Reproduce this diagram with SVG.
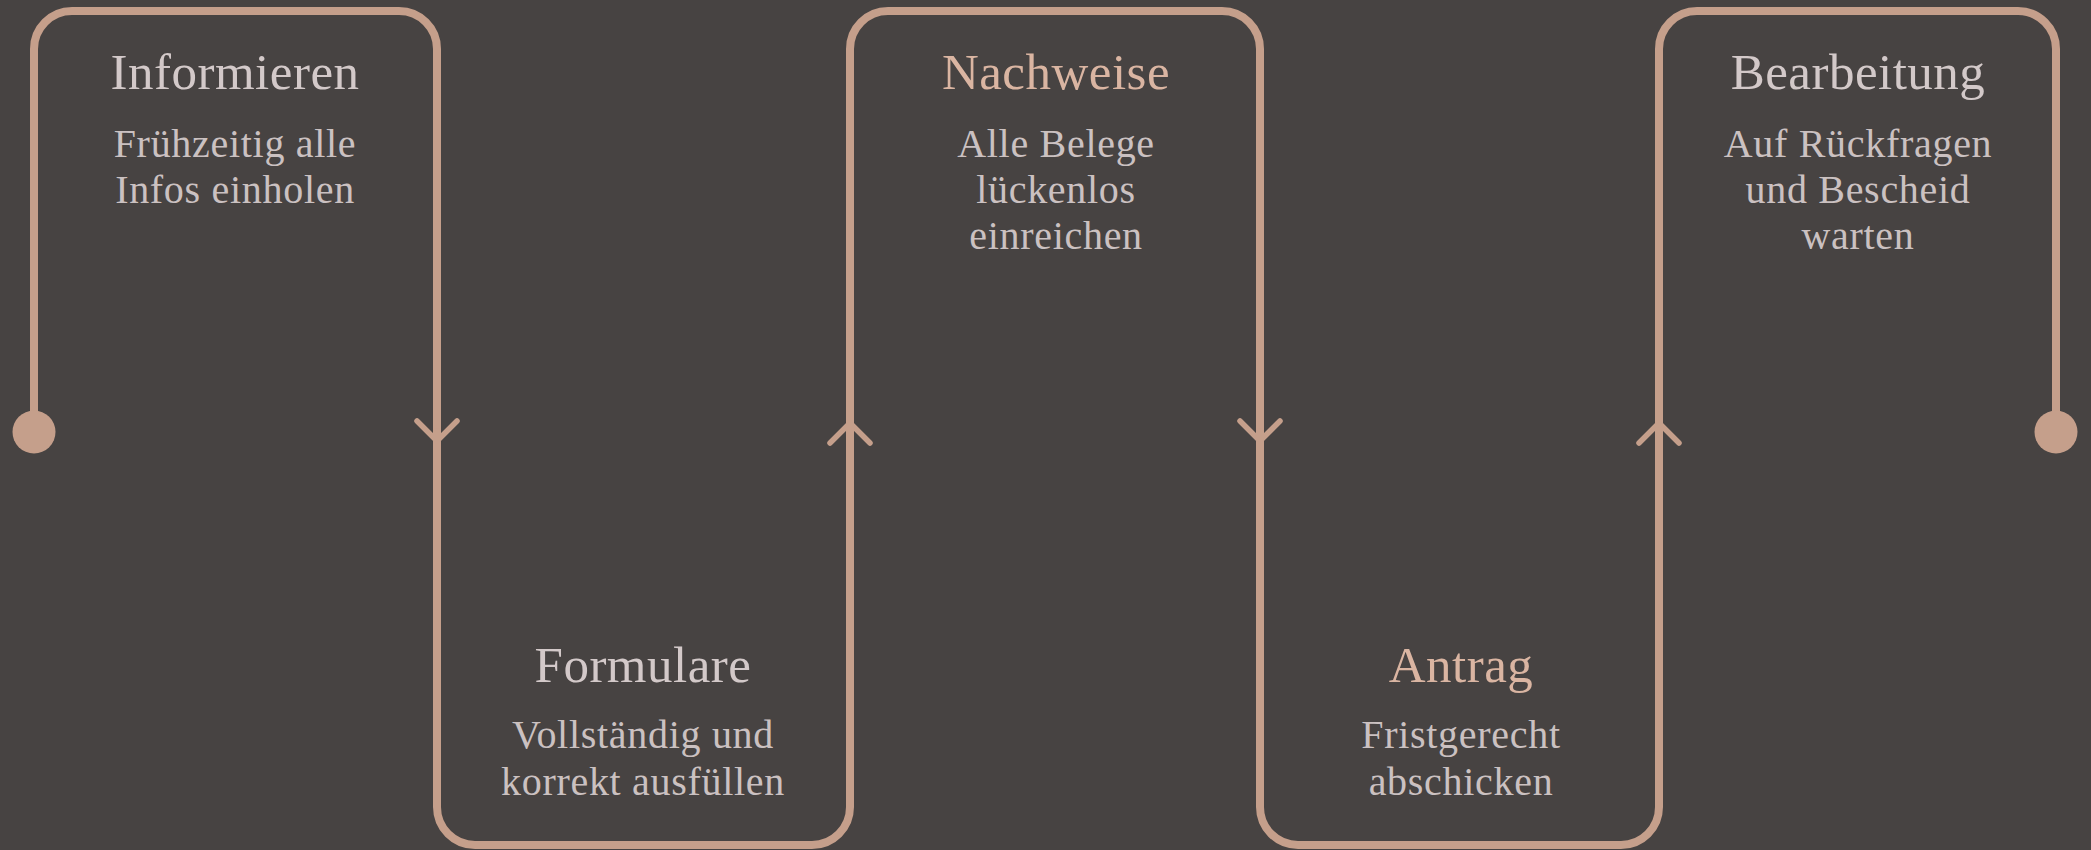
<svg xmlns="http://www.w3.org/2000/svg" width="2091" height="850" viewBox="0 0 2091 850">
  <defs>
    <style>
      .bg { fill: #474342; }
      .line { fill: none; stroke: #c59f8b; stroke-width: 8; stroke-linecap: round; stroke-linejoin: round; }
      .chev { fill: none; stroke: #c59f8b; stroke-width: 5.5; stroke-linecap: round; stroke-linejoin: round; }
      .dot { fill: #c59f8b; }
      .title { font-family: "Liberation Serif", "DejaVu Serif", serif; font-size: 51px; letter-spacing: 0.5px; text-anchor: middle; fill: #d3c9c9; }
      .title.accent { fill: #dab5a2; }
      .sub { font-family: "Liberation Serif", "DejaVu Serif", serif; font-size: 40px; letter-spacing: 0.7px; text-anchor: middle; fill: #cbc1c1; }
    </style>
  </defs>
  <rect class="bg" x="0" y="0" width="2091" height="850"/>

  <g id="connectors">
    <path class="line" d="M34,432 V49 A38,38 0 0 1 72,11 H399 A38,38 0 0 1 437,49 V432"/>
    <path class="line" d="M437,432 V807 A38,38 0 0 0 475,845 H812 A38,38 0 0 0 850,807 V432"/>
    <path class="line" d="M850,432 V49 A38,38 0 0 1 888,11 H1222 A38,38 0 0 1 1260,49 V432"/>
    <path class="line" d="M1260,432 V807 A38,38 0 0 0 1298,845 H1621 A38,38 0 0 0 1659,807 V432"/>
    <path class="line" d="M1659,432 V49 A38,38 0 0 1 1697,11 H2018 A38,38 0 0 1 2056,49 V432"/>
    <circle class="dot" cx="34" cy="432" r="21.5"/>
    <circle class="dot" cx="2056" cy="432" r="21.5"/>
    <path class="chev" d="M417,421 L437,441 L457,421"/>
    <path class="chev" d="M830,443 L850,423 L870,443"/>
    <path class="chev" d="M1240,421 L1260,441 L1280,421"/>
    <path class="chev" d="M1639,443 L1659,423 L1679,443"/>
  </g>

  <g id="node-informieren">
    <text class="title" x="235" y="89">Informieren</text>
    <text class="sub" x="235" y="157">Frühzeitig alle</text>
    <text class="sub" x="235" y="203">Infos einholen</text>
  </g>

  <g id="node-formulare">
    <text class="title" x="643" y="682">Formulare</text>
    <text class="sub" x="643" y="748">Vollständig und</text>
    <text class="sub" x="643" y="795">korrekt ausfüllen</text>
  </g>

  <g id="node-nachweise">
    <text class="title accent" x="1056" y="89">Nachweise</text>
    <text class="sub" x="1056" y="157">Alle Belege</text>
    <text class="sub" x="1056" y="203">lückenlos</text>
    <text class="sub" x="1056" y="249">einreichen</text>
  </g>

  <g id="node-antrag">
    <text class="title accent" x="1461" y="682">Antrag</text>
    <text class="sub" x="1461" y="748">Fristgerecht</text>
    <text class="sub" x="1461" y="795">abschicken</text>
  </g>

  <g id="node-bearbeitung">
    <text class="title" x="1858" y="89">Bearbeitung</text>
    <text class="sub" x="1858" y="157">Auf Rückfragen</text>
    <text class="sub" x="1858" y="203">und Bescheid</text>
    <text class="sub" x="1858" y="249">warten</text>
  </g>
</svg>
